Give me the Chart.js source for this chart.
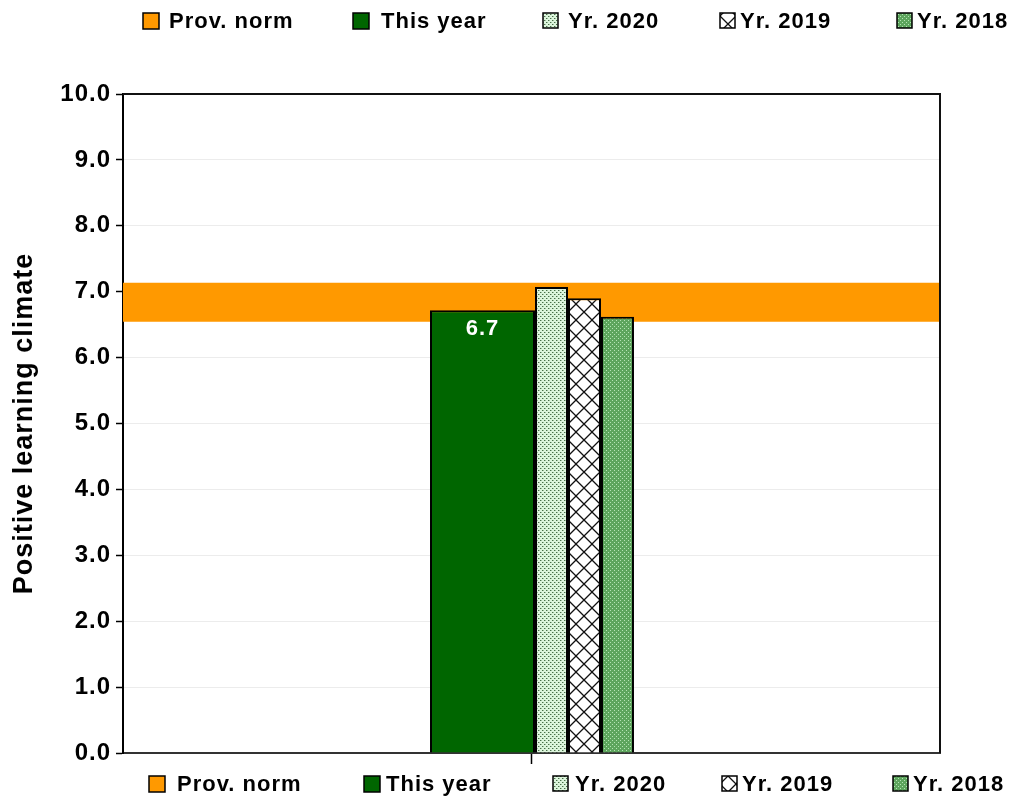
<!DOCTYPE html>
<html>
<head>
<meta charset="utf-8">
<script src="https://cdn.jsdelivr.net/npm/chart.js@4/dist/chart.umd.min.js"></script>
<style>
  body { margin: 0; background: #fff; }
  #wrap { width: 1023px; height: 801px; position: relative; }
</style>
</head>
<body>
<div id="wrap"><canvas id="myChart"></canvas></div>
<script>
// values
var categories = [''];
var provNormLow = [6.55];
var provNormHigh = [7.13];
var thisYear = [6.72];
var yr2020 = [7.07];
var yr2019 = [6.90];
var yr2018 = [6.62];
var yMin = 0;
var yMax = 10;
var yStep = 1;
var axisTitle = 'Positive learning climate';
var seriesNames = ['Prov. norm', 'This year', 'Yr. 2020', 'Yr. 2019', 'Yr. 2018'];

var FONT = '"Liberation Sans", Arial, Helvetica, sans-serif';

function makePattern(size, draw) {
    var c = document.createElement('canvas');
    c.width = size;
    c.height = size;
    var g = c.getContext('2d');
    draw(g, size);
    return g.createPattern(c, 'repeat');
}

var pat2020 = makePattern(4, function (g, s) {
    g.fillStyle = '#dcf5dc';
    g.fillRect(0, 0, s, s);
    g.fillStyle = '#4a6e4a';
    g.fillRect(0, 0, 1, 1);
    g.fillRect(2, 2, 1, 1);
    g.fillStyle = '#9cc09c';
    g.fillRect(1, 0, 1, 1);
    g.fillRect(3, 2, 1, 1);
});

var pat2019 = makePattern(16, function (g, s) {
    g.fillStyle = '#ffffff';
    g.fillRect(0, 0, s, s);
    g.strokeStyle = '#111';
    g.lineWidth = 1.3;
    g.beginPath();
    g.moveTo(0, 0); g.lineTo(s, s);
    g.moveTo(s, 0); g.lineTo(0, s);
    g.stroke();
});

var pat2018 = makePattern(4, function (g, s) {
    g.fillStyle = '#5da55d';
    g.fillRect(0, 0, s, s);
    g.fillStyle = '#b4e4b4';
    g.fillRect(0, 0, 1, 1);
    g.fillRect(2, 2, 1, 1);
});

var spacing = {
    id: 'spacing',
    beforeUpdate: function (chart) { chart.ctx.letterSpacing = '1px'; },
    beforeDraw: function (chart) { chart.ctx.letterSpacing = '1px'; }
};

// frame round the plot and the value label
var frame = {
    id: 'frame',
    afterDraw: function (chart) {
        var a = chart.chartArea;
        var c = chart.ctx;
        c.save();
        c.strokeStyle = '#111';
        c.lineWidth = 2;
        c.beginPath();
        c.moveTo(a.left, a.top);
        c.lineTo(a.right, a.top);
        c.lineTo(a.right, a.bottom);
        c.stroke();

        var meta = chart.getDatasetMeta(2);
        var bar = meta.data[0];
        c.fillStyle = '#ffffff';
        c.font = 'bold 22px ' + FONT;
        c.textAlign = 'center';
        c.textBaseline = 'middle';
        c.fillText(thisYear[0].toFixed(1), bar.x, bar.y + 19);
        c.restore();
    }
};

function drawLegend(chart, y, boxXs, textXs) {
    var c = chart.ctx;
    var fills = ['#ff9900', '#006600', pat2020, pat2019, pat2018];
    c.save();
    c.letterSpacing = '1px';
    for (var i = 0; i < seriesNames.length; i++) {
        var s = i < 2 ? 16 : 15;
        c.fillStyle = fills[i];
        c.fillRect(boxXs[i], y - 8, s, s);
        c.strokeStyle = '#000';
        c.lineWidth = 1.5;
        c.strokeRect(boxXs[i], y - 8, s, s);
        c.fillStyle = '#000';
        c.font = 'bold 22px ' + FONT;
        c.textAlign = 'left';
        c.textBaseline = 'middle';
        c.fillText(seriesNames[i], textXs[i], y + 1);
    }
    c.restore();
}

var legends = {
    id: 'legends',
    afterDraw: function (chart) {
        drawLegend(chart, 21, [143, 353, 543, 720, 897], [169, 381, 568, 740, 917]);
        drawLegend(chart, 784, [149, 364, 553, 722, 893], [177, 386, 575, 742, 913]);
    }
};

// six slots in the group: slot 1 (wide) for this year, slots 3..5 for the older years
function barOpts(catPct, barPct) {
    return {
        borderColor: '#000',
        borderWidth: 2,
        categoryPercentage: catPct,
        barPercentage: barPct
    };
}

ctx = document.getElementById('myChart').getContext('2d');
myChart = new Chart(ctx, {
    type: 'bar',
    data: {
        labels: categories,
        datasets: [
            {
                label: seriesNames[0],
                data: provNormLow.map(function (v, i) { return [v, provNormHigh[i]]; }),
                backgroundColor: '#ff9900',
                borderWidth: 0,
                grouped: false,
                categoryPercentage: 1,
                barPercentage: 1,
                order: 1
            },
            Object.assign({ label: 'gapA', data: [null], backgroundColor: 'rgba(0,0,0,0)' }, barOpts(0.25, 1)),
            Object.assign({ label: seriesNames[1], data: thisYear, backgroundColor: '#006600' }, barOpts(0.2399, 3.214)),
            Object.assign({ label: 'gapB', data: [null], backgroundColor: 'rgba(0,0,0,0)' }, barOpts(0.25, 1)),
            Object.assign({ label: seriesNames[2], data: yr2020, backgroundColor: pat2020 }, barOpts(0.2938, 0.825)),
            Object.assign({ label: seriesNames[3], data: yr2019, backgroundColor: pat2019 }, barOpts(0.2595, 0.934)),
            Object.assign({ label: seriesNames[4], data: yr2018, backgroundColor: pat2018 }, barOpts(0.2526, 0.959))
        ]
    },
    options: {
        responsive: true,
        maintainAspectRatio: false,
        animation: false,
        layout: { padding: { top: 94, right: 83, left: 0, bottom: 0 } },
        plugins: {
            legend: { display: false },
            tooltip: { enabled: false }
        },
        scales: {
            x: {
                grid: {
                    display: true,
                    drawOnChartArea: false,
                    offset: false,
                    tickLength: 11,
                    tickColor: '#000',
                    tickWidth: 1.5
                },
                border: { color: '#333', width: 2 },
                ticks: { display: false },
                afterFit: function (scale) { scale.height = 48; }
            },
            y: {
                min: yMin,
                max: yMax,
                grid: {
                    color: '#ececec',
                    lineWidth: 1,
                    tickLength: 7,
                    tickColor: '#000',
                    tickWidth: 1.5
                },
                border: { color: '#000', width: 2 },
                ticks: {
                    stepSize: yStep,
                    color: '#000',
                    padding: 5,
                    font: { family: FONT, size: 24, weight: 'bold' },
                    callback: function (v) { return v.toFixed(1); }
                },
                title: {
                    display: true,
                    text: axisTitle,
                    color: '#000',
                    padding: { top: 8, bottom: 0 },
                    font: { family: FONT, size: 27, weight: 'bold' }
                },
                afterFit: function (scale) { scale.width = 123; }
            }
        }
    },
    plugins: [spacing, frame, legends]
});
</script>
</body>
</html>
